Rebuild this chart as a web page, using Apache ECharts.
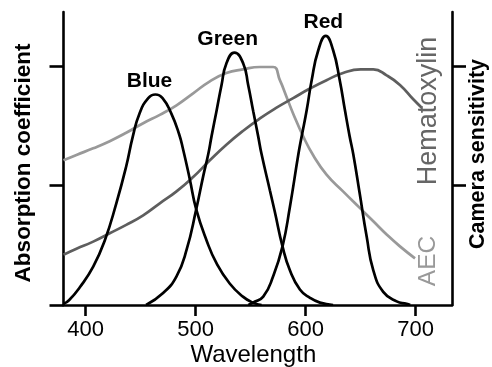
<!DOCTYPE html>
<html>
<head>
<meta charset="utf-8">
<script src="https://cdn.jsdelivr.net/npm/echarts@6/dist/echarts.min.js"></script>
<style>
  html, body { margin: 0; padding: 0; background: #fff; }
  #chart { width: 492px; height: 367px; }
</style>
</head>
<body>
<div id="chart"></div>
<script>
// values (wavelength in nm, arbitrary units on y)
const xTicks = [400, 500, 600, 700];
const yTicksLeft = [0, 1, 2];
const yTicksRight = [1, 2];

const blueWl = [380, 385, 395, 407, 417.5, 428, 437, 443, 449, 457, 463.5, 470, 478, 485, 488.7, 494.8, 500.6, 510, 519, 531, 543, 552, 560];
const blueVal = [0.01, 0.04, 0.15, 0.32, 0.54, 0.85, 1.16, 1.41, 1.6, 1.73, 1.76, 1.73, 1.6, 1.43, 1.3, 1.05, 0.8, 0.54, 0.35, 0.18, 0.07, 0.02, 0];

const greenWl = [455, 470.5, 482.7, 491.8, 500.6, 507, 511.5, 514.5, 519, 523.6, 528, 535.3, 543.3, 547.8, 552.4, 556.9, 560, 567.5, 572, 579, 585.7, 594.8, 604, 613, 625];
const greenVal = [0, 0.1, 0.24, 0.46, 0.8, 1.08, 1.26, 1.41, 1.62, 1.84, 2.02, 2.11, 2.02, 1.84, 1.62, 1.41, 1.26, 0.96, 0.78, 0.49, 0.29, 0.13, 0.06, 0.02, 0];

const redWl = [548, 552, 561.5, 570.5, 579, 585.7, 593.4, 596.4, 601, 605.5, 611.5, 618.3, 625, 631, 635.7, 640, 643.3, 649, 655.5, 661.5, 670.5, 682.7, 691.8, 695];
const redVal = [0, 0.02, 0.07, 0.24, 0.49, 0.82, 1.26, 1.41, 1.63, 1.88, 2.13, 2.25, 2.13, 1.88, 1.63, 1.41, 1.26, 0.94, 0.57, 0.29, 0.11, 0.03, 0.01, 0];

const aecWl = [380, 391.8, 407, 422, 437, 452.4, 467.5, 482.7, 497.8, 513, 528, 543, 558.5, 570.5, 576.6, 582.7, 588.7, 597.8, 607, 619, 634, 649.4, 661.5, 673.6, 685.7, 699.4];
const aecVal = [1.21, 1.255, 1.31, 1.37, 1.44, 1.52, 1.59, 1.67, 1.77, 1.87, 1.94, 1.97, 1.99, 1.99, 1.88, 1.74, 1.6, 1.41, 1.25, 1.09, 0.95, 0.81, 0.7, 0.59, 0.49, 0.39];

const hemWl = [380, 391.8, 407, 422, 437, 452.4, 467.5, 482.7, 497.8, 513, 528, 543, 558.5, 573.6, 588.7, 603.9, 619, 634, 650, 661.5, 673.6, 685.7, 697.8, 705.5];
const hemVal = [0.42, 0.47, 0.53, 0.6, 0.67, 0.75, 0.85, 0.95, 1.07, 1.21, 1.34, 1.455, 1.56, 1.65, 1.73, 1.81, 1.88, 1.94, 1.97, 1.97, 1.92, 1.84, 1.72, 1.65];

const pairs = (xs, ys) => xs.map((x, i) => [x, ys[i]]);

const FONT = "Liberation Sans, Arial, sans-serif";

const chart = echarts.init(document.getElementById("chart"), null, { renderer: "canvas" });

const lineSeries = (name, xs, ys, color, z) => ({
  name,
  type: "line",
  data: pairs(xs, ys),
  smooth: 0.5,
  showSymbol: false,
  symbol: "none",
  z,
  lineStyle: { color, width: 2.7 },
});

const label = (text, x, y, opts = {}) => ({
  type: "text",
  x,
  y,
  rotation: opts.rotation || 0,
  z: 100,
  style: {
    text,
    fill: opts.color || "#000",
    font: `${opts.weight || "normal"} ${opts.size || 22}px ${FONT}`,
    textAlign: "center",
    textVerticalAlign: "middle",
  },
});

const option = {
  animation: false,
  backgroundColor: "#fff",
  grid: { left: 63.5, right: 40, top: 12, bottom: 62 },
  xAxis: {
    type: "value",
    min: 380,
    max: 733,
    splitLine: { show: false },
    axisLine: { lineStyle: { color: "#000", width: 2.6 } },
    axisTick: { customValues: xTicks, length: 11, lineStyle: { color: "#000", width: 2.6 } },
    axisLabel: { customValues: xTicks, margin: 14, color: "#000", fontSize: 22, fontFamily: FONT },
  },
  yAxis: [
    {
      type: "value",
      min: 0,
      max: 2.45,
      position: "left",
      splitLine: { show: false },
      axisLine: { show: true, lineStyle: { color: "#000", width: 2.6 } },
      axisTick: { show: true, customValues: yTicksLeft, length: 14, lineStyle: { color: "#000", width: 2.6 } },
      axisLabel: { show: false },
    },
    {
      type: "value",
      min: 0,
      max: 2.45,
      position: "right",
      splitLine: { show: false },
      axisLine: { show: true, lineStyle: { color: "#000", width: 2.6 } },
      axisTick: { show: true, customValues: yTicksRight, length: 14, lineStyle: { color: "#000", width: 2.6 } },
      axisLabel: { show: false },
    },
  ],
  series: [
    lineSeries("AEC", aecWl, aecVal, "#999999", 2),
    lineSeries("Hematoxylin", hemWl, hemVal, "#5e5e5e", 3),
    lineSeries("Blue", blueWl, blueVal, "#000", 4),
    lineSeries("Green", greenWl, greenVal, "#000", 4),
    lineSeries("Red", redWl, redVal, "#000", 4),
  ],
  graphic: [
    label("Blue", 149.5, 81, { weight: "bold", size: 21 }),
    label("Green", 227.7, 39, { weight: "bold", size: 21 }),
    label("Red", 323.3, 22, { weight: "bold", size: 21 }),
    label("Absorption coefficient", 23.5, 163, { weight: "bold", size: 22.5, rotation: Math.PI / 2 }),
    label("Camera sensitivity", 478.5, 154, { weight: "bold", size: 21.5, rotation: Math.PI / 2 }),
    label("Hematoxylin", 428.5, 111, { size: 27, color: "#666666", rotation: Math.PI / 2 }),
    label("AEC", 428.5, 261, { size: 24.5, color: "#999999", rotation: Math.PI / 2 }),
    label("Wavelength", 253.3, 355, { size: 24 }),
  ],
};

chart.setOption(option);
window.addEventListener("resize", () => chart.resize());
</script>
</body>
</html>
